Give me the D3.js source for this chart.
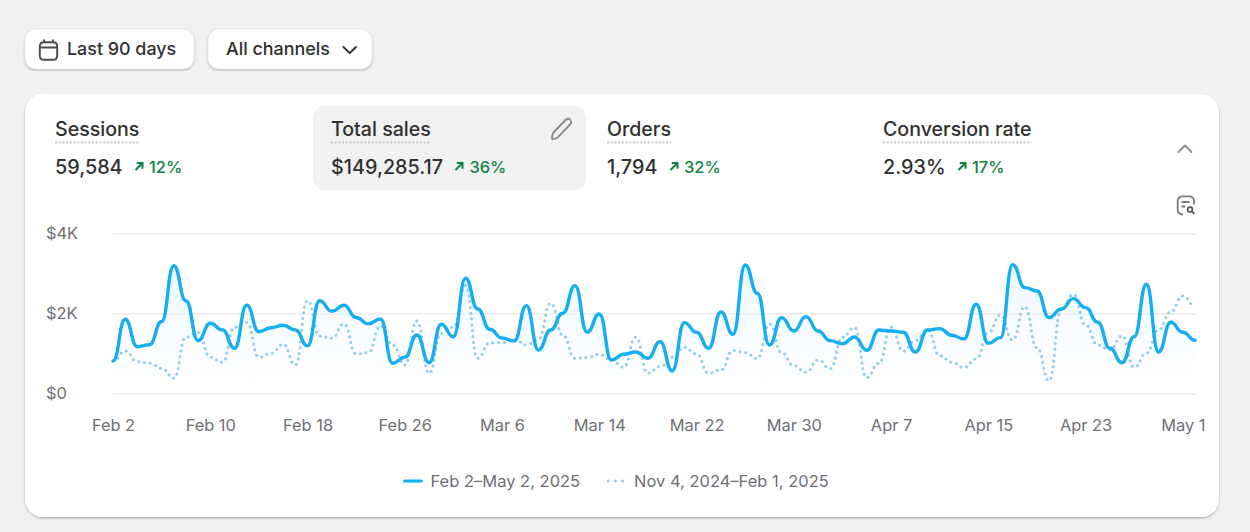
<!DOCTYPE html>
<html>
<head>
<meta charset="utf-8">
<script src="https://cdn.jsdelivr.net/npm/d3@7"></script>
<style>
html, body { margin: 0; padding: 0; background: #f1f1f1; }
svg { display: block; font-family: Inter, sans-serif; }
.axis path, .axis line { stroke: none; }
.axis--y line { stroke: #ebebeb; stroke-width: 1.3; }
.axis text { font-size: 16.4px; fill: #6f6f76; font-family: Inter, sans-serif; }
</style>
</head>
<body>
<svg width="1250" height="532"></svg>
<script>
// daily total sales, Feb 2 - May 2 2025
var currentSales = [
    813, 1855, 1170, 1220, 1800, 3195, 2320, 1320, 1755, 1590,
    1130, 2210, 1545, 1645, 1705, 1590, 1190, 2320, 2055, 2205,
    1900, 1740, 1863, 755, 905, 1463, 770, 1730, 1420, 2880,
    2113, 1605, 1388, 1313, 2196, 1088, 1588, 2005, 2696, 1530,
    1988, 838, 980, 1038, 880, 1296, 563, 1771, 1530, 1130,
    2038, 1480, 3213, 2505, 1213, 1896, 1563, 1921, 1563, 1321,
    1246, 1413, 1080, 1588, 1563, 1530, 1038, 1588, 1621, 1455,
    1363, 2230, 1255, 1396, 3221, 2646, 2563, 1896, 2113, 2371,
    2146, 1780, 1130, 770, 1421, 2730, 1038, 1780, 1530, 1330
];
// previous period, Nov 4 2024 - Feb 1 2025
var previousSales = [
    813, 1063, 796, 755, 630, 380, 1405, 1520, 905, 780,
    1655, 1770, 905, 1005, 1230, 713, 2320, 1440, 1380, 1740,
    988, 1020, 1688, 1213, 713, 1813, 505, 1505, 1655, 2700,
    880, 1270, 1270, 1355, 1213, 1355, 2255, 1463, 880, 896,
    980, 838, 655, 1405, 505, 670, 905, 1155, 988, 505,
    588, 1071, 1021, 871, 1738, 1021, 696, 530, 838, 621,
    1405, 1646, 396, 755, 1655, 1055, 1321, 1588, 946, 780,
    646, 863, 1521, 1963, 1338, 2171, 1146, 321, 2105, 2480,
    1713, 1213, 1088, 1438, 655, 1005, 1588, 2046, 2438, 2188
];
var startDate = new Date(Date.UTC(2025, 1, 2));
var xTickDates = ["2025-02-02", "2025-02-10", "2025-02-18", "2025-02-26", "2025-03-06", "2025-03-14",
    "2025-03-22", "2025-03-30", "2025-04-07", "2025-04-15", "2025-04-23", "2025-05-01"];
var yTicks = [0, 2000, 4000];
var yTickLabels = ["$0", "$2K", "$4K"];
var metrics = ["Sessions", "Total sales", "Orders", "Conversion rate"];
var metricValues = ["59,584", "$149,285.17", "1,794", "2.93%"];
var metricChanges = ["12%", "36%", "32%", "17%"];
var legendLabels = ["Feb 2\u2013May 2, 2025", "Nov 4, 2024\u2013Feb 1, 2025"];

var svg = d3.select("svg");
var defs = svg.append("defs");

var shadow = defs.append("filter").attr("id", "cardShadow")
    .attr("x", "-5%").attr("y", "-5%").attr("width", "110%").attr("height", "110%");
shadow.append("feDropShadow").attr("dx", 0).attr("dy", 1.2).attr("stdDeviation", 0.8)
    .attr("flood-color", "#000").attr("flood-opacity", 0.3);

var grad = defs.append("linearGradient").attr("id", "areaFill")
    .attr("gradientUnits", "userSpaceOnUse")
    .attr("x1", 0).attr("y1", 264).attr("x2", 0).attr("y2", 394);
grad.append("stop").attr("offset", 0).attr("stop-color", "#e6f5fe").attr("stop-opacity", 0.75);
grad.append("stop").attr("offset", 1).attr("stop-color", "#eef8fe").attr("stop-opacity", 0);

// filter buttons
function button(x, w, label, textX) {
    svg.append("rect").attr("x", x).attr("y", 29).attr("width", w).attr("height", 40).attr("rx", 11)
        .attr("fill", "#fff").attr("stroke", "#e3e3e3").attr("stroke-width", 0.6)
        .attr("filter", "url(#cardShadow)");
    svg.append("text").attr("x", textX).attr("y", 55).attr("fill", "#303030")
        .attr("font-size", 17.9).attr("font-weight", 550).text(label);
}
button(25, 169, "Last 90 days", 67);
button(208, 164, "All channels", 226);

// calendar icon
svg.append("path")
    .attr("d", "M44 39.5v3M53 39.5v3M39.8 46.5c0-2.6 1.6-4.3 4.2-4.3h9c2.6 0 4.2 1.7 4.2 4.3v9c0 2.6-1.6 4.3-4.2 4.3h-9c-2.6 0-4.2-1.7-4.2-4.3zM39.8 47.5h17.4")
    .attr("fill", "none").attr("stroke", "#4a4a4a").attr("stroke-width", 1.9);
// dropdown chevron
svg.append("path").attr("d", "M343.5 47l6.2 6.2 6.2-6.2")
    .attr("fill", "none").attr("stroke", "#303030").attr("stroke-width", 1.9)
    .attr("stroke-linecap", "round").attr("stroke-linejoin", "round");

// card
svg.append("rect").attr("x", 25).attr("y", 94).attr("width", 1194).attr("height", 423).attr("rx", 18)
    .attr("fill", "#fff").attr("filter", "url(#cardShadow)");
svg.append("rect").attr("x", 313).attr("y", 106).attr("width", 273).attr("height", 84).attr("rx", 12)
    .attr("fill", "#f1f1f1");

// metric tabs
var metricX = [55, 331, 607, 883];
var changeX = [149, 469.5, 684, 972];
var arrowX = [134, 454, 669, 957];
metrics.forEach(function(name, i) {
    var title = svg.append("text").attr("x", metricX[i]).attr("y", 136).attr("fill", "#303030")
        .attr("font-size", 19.6).attr("font-weight", 550).text(name);
    var w = title.node().getComputedTextLength();
    svg.append("line").attr("x1", metricX[i]).attr("x2", metricX[i] + w).attr("y1", 142.5).attr("y2", 142.5)
        .attr("stroke", "#c9c9c9").attr("stroke-width", 2).attr("stroke-dasharray", "2 1.7");
    svg.append("text").attr("x", metricX[i]).attr("y", 173.5).attr("fill", "#303030")
        .attr("font-size", 19.8).attr("font-weight", 550).text(metricValues[i]);
    svg.append("path")
        .attr("transform", "translate(" + arrowX[i] + ",161)")
        .attr("d", "M1.5 9L8 2.5M2.8 2h5.7v5.7")
        .attr("fill", "none").attr("stroke", "#108043").attr("stroke-width", 2);
    svg.append("text").attr("x", changeX[i]).attr("y", 173).attr("fill", "#108043")
        .attr("font-size", 16.4).attr("font-weight", 550).text(metricChanges[i]);
});

// pencil, collapse chevron, search-report icons
svg.append("path")
    .attr("d", "M553.5 132.5l12-12.5c1.4-1.4 3.4-1.4 4.7-.2 1.3 1.3 1.2 3.3-.2 4.7l-12 12.6c-1.3 1.3-3 1.9-5.2 2-.5 0-.8-.3-.8-.8.1-2.2.4-4.3 1.5-5.8z")
    .attr("fill", "none").attr("stroke", "#8a8a8a").attr("stroke-width", 1.9);
svg.append("path").attr("d", "M1178.5 152l6.5-6.5 6.5 6.5")
    .attr("fill", "none").attr("stroke", "#8a8a8a").attr("stroke-width", 1.9)
    .attr("stroke-linecap", "round").attr("stroke-linejoin", "round");
svg.append("path")
    .attr("d", "M1183 214.5c-3 0-5.3-1.5-5.3-4.5v-9c0-3 2-4.7 5-4.7h6.3c3 0 5 1.7 5 4.7v3.5M1181.5 202h8M1181.5 206.5h3.5")
    .attr("fill", "none").attr("stroke", "#7a7a7a").attr("stroke-width", 1.8);
svg.append("circle").attr("cx", 1190).attr("cy", 209.5).attr("r", 2.4)
    .attr("fill", "none").attr("stroke", "#555").attr("stroke-width", 1.7);
svg.append("path").attr("d", "M1192 211.5l2.4 2.4").attr("stroke", "#555").attr("stroke-width", 1.8);

// chart
var parseDay = d3.utcParse("%Y-%m-%d");
var dayOf = function(i) { return d3.utcDay.offset(startDate, i); };
var x = d3.scaleUtc().domain([startDate, dayOf(currentSales.length - 1)]).range([113, 1195]);
var y = d3.scaleLinear().domain([0, 4000]).range([393.5, 233.5]);

svg.append("g").attr("class", "axis axis--y")
    .attr("transform", "translate(113,0)")
    .call(d3.axisLeft(y).tickValues(yTicks).tickSize(-1082)
        .tickFormat(function(d, i) { return yTickLabels[i]; }));
svg.select(".axis--y").selectAll("text").attr("x", -67).attr("dy", "0.28em").style("text-anchor", "start");

svg.append("g").attr("class", "axis axis--x")
    .attr("transform", "translate(0,416)")
    .call(d3.axisBottom(x).tickValues(xTickDates.map(parseDay)).tickSize(0).tickPadding(3)
        .tickFormat(d3.utcFormat("%b %-d")));

var area = d3.area().curve(d3.curveBumpX)
    .x(function(d, i) { return x(dayOf(i)); }).y0(y(0)).y1(function(d) { return y(d); });
var line = d3.line().curve(d3.curveBumpX)
    .x(function(d, i) { return x(dayOf(i)); }).y(function(d) { return y(d); });

svg.append("path").datum(currentSales).attr("d", area).attr("fill", "url(#areaFill)");
svg.append("path").datum(previousSales).attr("d", line)
    .attr("fill", "none").attr("stroke", "#93cdeb").attr("stroke-width", 3)
    .attr("stroke-linecap", "round").attr("stroke-dasharray", "0.1 5.7");
svg.append("path").datum(currentSales).attr("d", line)
    .attr("fill", "none").attr("stroke", "#15aef2").attr("stroke-width", 3.4)
    .attr("stroke-linecap", "round").attr("stroke-linejoin", "round");

// legend
svg.append("line").attr("x1", 404.5).attr("x2", 421.5).attr("y1", 481).attr("y2", 481)
    .attr("stroke", "#0fb0f7").attr("stroke-width", 3).attr("stroke-linecap", "round");
svg.append("line").attr("x1", 608).attr("x2", 625).attr("y1", 481).attr("y2", 481)
    .attr("stroke", "#93cdeb").attr("stroke-width", 3).attr("stroke-linecap", "round").attr("stroke-dasharray", "0.1 7.2");
svg.append("text").attr("x", 430.5).attr("y", 487).attr("fill", "#6f6f76").attr("font-size", 16.5).text(legendLabels[0]);
svg.append("text").attr("x", 634).attr("y", 487).attr("fill", "#6f6f76").attr("font-size", 16.5).text(legendLabels[1]);
</script>
</body>
</html>
